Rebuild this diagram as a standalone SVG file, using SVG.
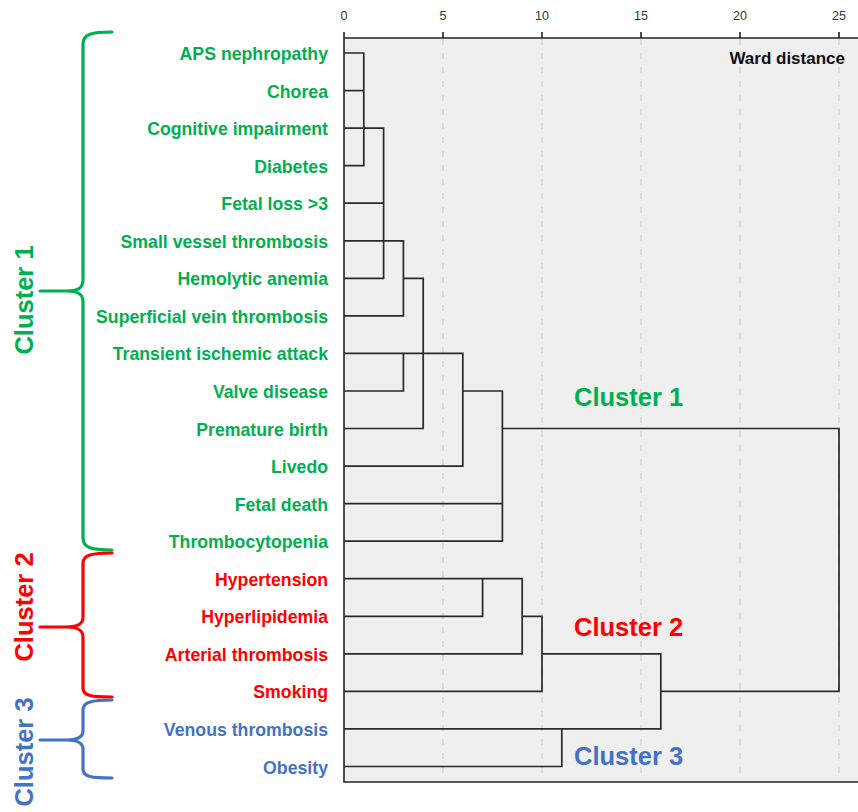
<svg xmlns="http://www.w3.org/2000/svg" width="858" height="812" viewBox="0 0 858 812">
<style>
.lbl{font-family:"Liberation Sans",Arial,sans-serif;font-weight:bold;font-size:17.7px;text-anchor:end}
.g{fill:#00b050}.r{fill:#ff0000}.b{fill:#4472c4}
.cl{font-family:"Liberation Sans",Arial,sans-serif;font-weight:bold;font-size:25.5px}
.ax{font-family:"Liberation Sans",Arial,sans-serif;font-size:12.5px;fill:#333;text-anchor:middle}
.grid{stroke:#d4d4d4;stroke-width:1.5;stroke-dasharray:6 8;fill:none}
.den{stroke:#2a2a2a;stroke-width:1.7;fill:none}
.brace{fill:none;stroke-width:3.2;stroke-linejoin:round;stroke-linecap:round}
</style>
<rect x="0" y="0" width="858" height="812" fill="#ffffff"/>
<g id="plot">
<rect x="344" y="38" width="514" height="744" fill="#efefef"/>
<path class="grid" d="M443,39V781M542,39V781M641,39V781M740,39V781M839,39V781"/>
<path d="M344,38H858M344,32V782H858M443,32V38M542,32V38M641,32V38M740,32V38M839,32V38" stroke="#222" stroke-width="1.6" fill="none"/>
<text class="ax" x="344" y="20">0</text>
<text class="ax" x="443" y="20">5</text>
<text class="ax" x="542" y="20">10</text>
<text class="ax" x="641" y="20">15</text>
<text class="ax" x="740" y="20">20</text>
<text class="ax" x="839" y="20">25</text>
<text x="845" y="63.5" font-family="Liberation Sans,Arial,sans-serif" font-weight="bold" font-size="17px" text-anchor="end" fill="#111">Ward distance</text>
</g>
<g id="connectors" class="den">
<path d="M344,53H363.8V165.7H344"/>
<path d="M344,90.6H363.8"/>
<path d="M344,128.1H383.6V278.3H344"/>
<path d="M344,203.2H383.6"/>
<path d="M344,240.8H403.4V315.9H344"/>
<path d="M403.4,278.3H423.2V428.5H344"/>
<path d="M344,353.4H462.8V466.1H344"/>
<path d="M344,391H403.4V353.4"/>
<path d="M462.8,391H502.4V541.2H344"/>
<path d="M344,503.6H502.4"/>
<path d="M502.4,428.5H839V691.4H660.8"/>
<path d="M344,578.7H522.2V653.8H344"/>
<path d="M344,616.3H482.6V578.7"/>
<path d="M522.2,616.3H542V691.4H344"/>
<path d="M542,653.8H660.8V728.9H344"/>
<path d="M344,766.5H561.8V728.9"/>
</g>
<g id="leaf-aps"><text class="lbl g" x="328" y="60">APS nephropathy</text></g>
<g id="leaf-chorea"><text class="lbl g" x="328" y="97.6">Chorea</text></g>
<g id="leaf-cognitive"><text class="lbl g" x="328" y="135.1">Cognitive impairment</text></g>
<g id="leaf-diabetes"><text class="lbl g" x="328" y="172.7">Diabetes</text></g>
<g id="leaf-fetal-loss"><text class="lbl g" x="328" y="210.2">Fetal loss &gt;3</text></g>
<g id="leaf-small-vessel"><text class="lbl g" x="328" y="247.8">Small vessel thrombosis</text></g>
<g id="leaf-hemolytic"><text class="lbl g" x="328" y="285.3">Hemolytic anemia</text></g>
<g id="leaf-superficial"><text class="lbl g" x="328" y="322.9">Superficial vein thrombosis</text></g>
<g id="leaf-tia"><text class="lbl g" x="328" y="360.4">Transient ischemic attack</text></g>
<g id="leaf-valve"><text class="lbl g" x="328" y="398">Valve disease</text></g>
<g id="leaf-premature"><text class="lbl g" x="328" y="435.5">Premature birth</text></g>
<g id="leaf-livedo"><text class="lbl g" x="328" y="473.1">Livedo</text></g>
<g id="leaf-fetal-death"><text class="lbl g" x="328" y="510.6">Fetal death</text></g>
<g id="leaf-thrombocytopenia"><text class="lbl g" x="328" y="548.2">Thrombocytopenia</text></g>
<g id="leaf-hypertension"><text class="lbl r" x="328" y="585.7">Hypertension</text></g>
<g id="leaf-hyperlipidemia"><text class="lbl r" x="328" y="623.3">Hyperlipidemia</text></g>
<g id="leaf-arterial"><text class="lbl r" x="328" y="660.8">Arterial thrombosis</text></g>
<g id="leaf-smoking"><text class="lbl r" x="328" y="698.4">Smoking</text></g>
<g id="leaf-venous"><text class="lbl b" x="328" y="735.9">Venous thrombosis</text></g>
<g id="leaf-obesity"><text class="lbl b" x="328" y="773.5">Obesity</text></g>
<g id="cluster1-label"><text class="cl g" x="574" y="406">Cluster 1</text></g>
<g id="cluster2-label"><text class="cl r" x="574" y="635.5">Cluster 2</text></g>
<g id="cluster3-label"><text class="cl b" x="574" y="765">Cluster 3</text></g>
<g id="brace1">
<path class="brace" stroke="#00b050" d="M112,32C92,32 83,34 83,44V280C83,288 78,291 66,291H40M66,291C78,291 83,294 83,302V538C83,548 92,550 112,550"/>
<text class="cl g" transform="translate(33,300) rotate(-90)" text-anchor="middle">Cluster 1</text>
</g>
<g id="brace2">
<path class="brace" stroke="#ff0000" d="M112,553C92,553 83,555 83,563V617C83,624 78,627 66,627H40M66,627C78,627 83,630 83,637V688C83,696 92,697 112,697"/>
<text class="cl r" transform="translate(33,607) rotate(-90)" text-anchor="middle">Cluster 2</text>
</g>
<g id="brace3">
<path class="brace" stroke="#4472c4" d="M112,700C92,700 83,702 83,710V731C83,737 78,740 66,740H40M66,740C78,740 83,743 83,749V769C83,777 92,778 112,778"/>
<text class="cl b" transform="translate(33,752) rotate(-90)" text-anchor="middle">Cluster 3</text>
</g>
</svg>
